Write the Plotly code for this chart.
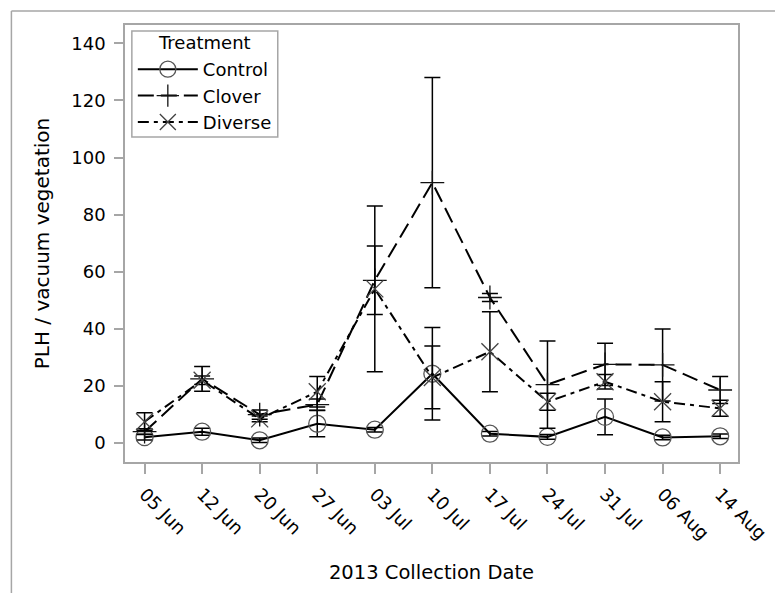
import plotly.graph_objects as go

dates = ["05 Jun", "12 Jun", "20 Jun", "27 Jun", "03 Jul", "10 Jul",
         "17 Jul", "24 Jul", "31 Jul", "06 Aug", "14 Aug"]
control = [2.1, 4.0, 1.0, 6.8, 4.7, 24.3, 3.3, 2.2, 9.2, 2.0, 2.4]
control_err = [1.0, 1.2, 0.8, 4.6, 0.8, 16.2, 0.8, 0.8, 6.3, 0.8, 0.8]
clover = [4.0, 22.5, 10.0, 13.5, 57.0, 91.2, 51.0, 20.5, 27.6, 27.4, 18.6]
clover_err = [1.0, 4.3, 1.6, 2.0, 12.0, 36.8, 1.4, 15.3, 7.4, 12.6, 4.7]
diverse = [7.5, 22.0, 8.5, 18.0, 54.0, 23.0, 32.0, 14.5, 21.5, 14.5, 12.2]
diverse_err = [3.1, 1.5, 1.0, 5.3, 29.0, 11.0, 14.0, 3.0, 2.5, 7.0, 2.8]
y_ticks = [0, 20, 40, 60, 80, 100, 120, 140]

FONT = "DejaVu Sans, Verdana, sans-serif"
GRAY = "#a6a6a6"

fig = go.Figure()

def add(name, y, err, dash, symbol, mcolor):
    fig.add_trace(go.Scatter(
        x=dates, y=y, name=name, mode="lines+markers",
        line=dict(color="black", width=2, dash=dash),
        marker=dict(symbol=symbol, size=17, color=mcolor,
                    line=dict(color=mcolor, width=1.3)),
        error_y=dict(type="data", array=err, visible=True,
                     color="black", thickness=1.5, width=8),
    ))

add("Control", control, control_err, "solid", "circle-open", "#555555")
add("Clover", clover, clover_err, "16px,7px", "cross-thin-open", "#111111")
add("Diverse", diverse, diverse_err, "11px,5px,4px,5px", "x-thin-open", "#444444")

# page has an 8px body margin: work in figure coordinates = screen - 8
OFF = 8
W, H = 783 - OFF, 593 - OFF
L, T = 125 - OFF, 25 - OFF
R = W - (751 - OFF)
B = H - (462 - OFF)
pw, ph = W - L - R, H - T - B

def px(sx):
    return (sx - OFF - L) / pw

def py(sy):
    return 1 - (sy - OFF - T) / ph

# outer frame (left and top edges)
fig.add_shape(type="line", xref="paper", yref="paper",
              x0=px(9), x1=px(9), y0=-0.5, y1=py(11),
              line=dict(color=GRAY, width=1.5))
fig.add_shape(type="line", xref="paper", yref="paper",
              x0=px(9), x1=1.2, y0=py(11), y1=py(11),
              line=dict(color=GRAY, width=1.5))
# legend box
fig.add_shape(type="rect", xref="paper", yref="paper", layer="above",
              x0=px(132), x1=px(281), y0=py(137), y1=py(31),
              line=dict(color=GRAY, width=1.5))
fig.add_annotation(text="Treatment", xref="paper", yref="paper",
                   x=px(206.5), y=py(43), xanchor="center", yanchor="middle",
                   showarrow=False,
                   font=dict(family=FONT, size=18, color="black"))

fig.update_layout(
    width=W, height=H,
    margin=dict(l=L, r=R, t=T, b=B),
    paper_bgcolor="white", plot_bgcolor="white",
    font=dict(family=FONT, size=18, color="black"),
    showlegend=True,
    legend=dict(
        x=px(133), y=py(51),
        xanchor="left", yanchor="top",
        borderwidth=0, bgcolor="rgba(0,0,0,0)",
        font=dict(family=FONT, size=18, color="black"),
        itemwidth=60, tracegroupgap=0,
    ),
    xaxis=dict(
        type="category", range=[-0.34, 10.31],
        showline=True, linecolor=GRAY, linewidth=1.5, mirror=True,
        ticks="outside", ticklen=10, tickcolor=GRAY, tickwidth=1.5,
        tickangle=45, showgrid=False, zeroline=False, ticklabelstandoff=3,
        tickfont=dict(family=FONT, size=18, color="black"),
        title=dict(text="2013 Collection Date", standoff=23,
                   font=dict(family=FONT, size=19.5, color="black")),
    ),
    yaxis=dict(
        range=[-6.6, 146.4], tickvals=y_ticks,
        showline=True, linecolor=GRAY, linewidth=1.5, mirror=True,
        ticks="outside", ticklen=9, tickcolor=GRAY, tickwidth=1.5,
        showgrid=False, zeroline=False, ticklabelstandoff=5,
        tickfont=dict(family=FONT, size=18, color="black"),
        title=dict(text="PLH / vacuum vegetation", standoff=16,
                   font=dict(family=FONT, size=20, color="black")),
    ),
)

fig.write_html("out.html")
